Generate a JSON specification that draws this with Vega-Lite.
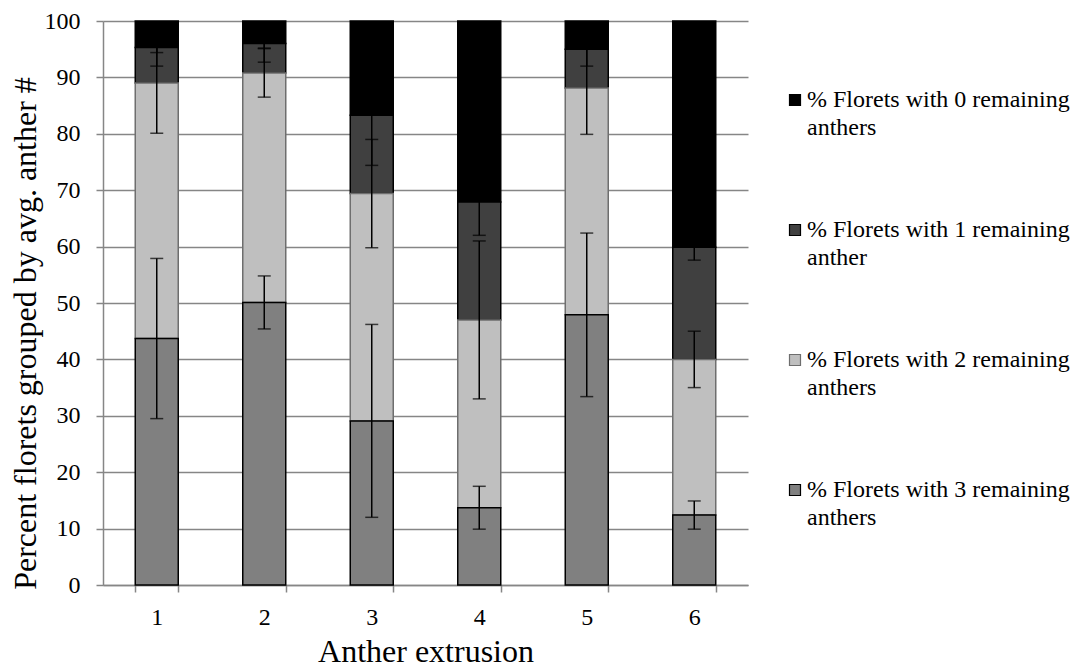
{
  "$schema": "https://vega.github.io/schema/vega-lite/v6.json",
  "width": 645,
  "height": 564,
  "autosize": {"type": "none"},
  "padding": {"left": 103, "top": 21, "right": 326, "bottom": 83},
  "background": "white",
  "config": {
    "font": "Liberation Serif",
    "view": {"stroke": null},
    "axis": {
      "labelFont": "Liberation Serif",
      "titleFont": "Liberation Serif",
      "labelColor": "black",
      "titleColor": "black",
      "titleFontWeight": "normal"
    },
    "legend": {"labelFont": "Liberation Serif", "titleFont": "Liberation Serif"}
  },
  "data": {
    "values": [
      {"extrusion": "1", "remaining": 0, "series": "% Florets with 0 remaining anthers", "percent": 4.7, "err": 5.6},
      {"extrusion": "1", "remaining": 1, "series": "% Florets with 1 remaining anther", "percent": 6.3, "err": 3.3},
      {"extrusion": "1", "remaining": 2, "series": "% Florets with 2 remaining anthers", "percent": 45.3, "err": 8.9},
      {"extrusion": "1", "remaining": 3, "series": "% Florets with 3 remaining anthers", "percent": 43.7, "err": 14.2},
      {"extrusion": "2", "remaining": 0, "series": "% Florets with 0 remaining anthers", "percent": 4.0, "err": 4.8},
      {"extrusion": "2", "remaining": 1, "series": "% Florets with 1 remaining anther", "percent": 5.2, "err": 3.3},
      {"extrusion": "2", "remaining": 2, "series": "% Florets with 2 remaining anthers", "percent": 40.7, "err": 4.3},
      {"extrusion": "2", "remaining": 3, "series": "% Florets with 3 remaining anthers", "percent": 50.1, "err": 4.7},
      {"extrusion": "3", "remaining": 0, "series": "% Florets with 0 remaining anthers", "percent": 16.7, "err": 10.0},
      {"extrusion": "3", "remaining": 1, "series": "% Florets with 1 remaining anther", "percent": 13.9, "err": 8.9},
      {"extrusion": "3", "remaining": 2, "series": "% Florets with 2 remaining anthers", "percent": 40.3, "err": 9.6},
      {"extrusion": "3", "remaining": 3, "series": "% Florets with 3 remaining anthers", "percent": 29.1, "err": 17.1},
      {"extrusion": "4", "remaining": 0, "series": "% Florets with 0 remaining anthers", "percent": 32.1, "err": 12.0},
      {"extrusion": "4", "remaining": 1, "series": "% Florets with 1 remaining anther", "percent": 20.9, "err": 5.9},
      {"extrusion": "4", "remaining": 2, "series": "% Florets with 2 remaining anthers", "percent": 33.3, "err": 14.0},
      {"extrusion": "4", "remaining": 3, "series": "% Florets with 3 remaining anthers", "percent": 13.7, "err": 3.8},
      {"extrusion": "5", "remaining": 0, "series": "% Florets with 0 remaining anthers", "percent": 5.0, "err": 4.0},
      {"extrusion": "5", "remaining": 1, "series": "% Florets with 1 remaining anther", "percent": 6.9, "err": 3.0},
      {"extrusion": "5", "remaining": 2, "series": "% Florets with 2 remaining anthers", "percent": 40.2, "err": 8.2},
      {"extrusion": "5", "remaining": 3, "series": "% Florets with 3 remaining anthers", "percent": 47.9, "err": 14.5},
      {"extrusion": "6", "remaining": 0, "series": "% Florets with 0 remaining anthers", "percent": 40.1, "err": 15.0},
      {"extrusion": "6", "remaining": 1, "series": "% Florets with 1 remaining anther", "percent": 19.9, "err": 2.3},
      {"extrusion": "6", "remaining": 2, "series": "% Florets with 2 remaining anthers", "percent": 27.6, "err": 5.0},
      {"extrusion": "6", "remaining": 3, "series": "% Florets with 3 remaining anthers", "percent": 12.4, "err": 2.5}
    ]
  },
  "layer": [
    {
      "mark": {"type": "bar", "strokeWidth": 1.5},
      "encoding": {
        "x": {
          "field": "extrusion",
          "type": "ordinal",
          "scale": {"paddingInner": 0.6, "paddingOuter": 0.3},
          "axis": {
            "title": "Anther extrusion",
            "labelAngle": 0,
            "tickBand": "extent",
            "domainColor": "#868686",
            "domainWidth": 1.5,
            "tickColor": "#868686",
            "tickWidth": 1.5,
            "tickSize": 7,
            "labelFontSize": 24,
            "labelPadding": 13,
            "titleFontSize": 32,
            "titlePadding": 7,
            "grid": false
          }
        },
        "y": {
          "field": "percent",
          "type": "quantitative",
          "stack": "zero",
          "scale": {"domain": [0, 100]},
          "axis": {
            "title": "Percent florets grouped by avg. anther #",
            "values": [0, 10, 20, 30, 40, 50, 60, 70, 80, 90, 100],
            "grid": true,
            "gridColor": "#868686",
            "gridWidth": 1.3,
            "domainColor": "#868686",
            "domainWidth": 1.5,
            "tickColor": "#868686",
            "tickWidth": 1.5,
            "tickSize": 7,
            "labelFontSize": 24,
            "labelPadding": 16,
            "titleFontSize": 32,
            "titlePadding": 2,
            "titleY": 312
          }
        },
        "color": {
          "field": "series",
          "type": "nominal",
          "scale": {
            "domain": ["% Florets with 0 remaining anthers", "% Florets with 1 remaining anther", "% Florets with 2 remaining anthers", "% Florets with 3 remaining anthers"],
            "range": ["#000000", "#404040", "#bfbfbf", "#808080"]
          },
          "legend": {
            "title": null,
            "orient": "none",
            "legendX": 680,
            "legendY": 67,
            "padding": 0,
            "symbolType": "square",
            "symbolSize": 121,
            "symbolStrokeWidth": 1.2,
            "labelFont": "Liberation Serif",
            "labelFontSize": 24,
            "labelColor": "black",
            "labelLimit": 400,
            "labelOffset": 0,
            "labelBaseline": "middle",
            "rowPadding": 78,
            "labelExpr": "[slice(datum.label, 0, indexof(datum.label, ' remaining') + 10), slice(datum.label, indexof(datum.label, ' remaining') + 11)]",
            "encode": {"labels": {"update": {"lineHeight": {"value": 27.5}}}}
          }
        },
        "stroke": {
          "field": "series",
          "type": "nominal",
          "scale": {
            "domain": ["% Florets with 0 remaining anthers", "% Florets with 1 remaining anther", "% Florets with 2 remaining anthers", "% Florets with 3 remaining anthers"],
            "range": ["#000000", "#000000", "#6e6e6e", "#000000"]
          }
        },
        "order": {"field": "remaining", "sort": "descending"}
      }
    },
    {
      "transform": [
        {"stack": "percent", "groupby": ["extrusion"], "sort": [{"field": "remaining", "order": "descending"}], "as": ["base", "top"]}
      ],
      "mark": {
        "type": "errorbar",
        "clip": true,
        "rule": {"color": "black", "strokeWidth": 1.5},
        "ticks": {"color": "black", "size": 13, "thickness": 1.5}
      },
      "encoding": {
        "x": {"field": "extrusion", "type": "ordinal"},
        "y": {"field": "top", "type": "quantitative", "title": "Percent florets grouped by avg. anther #"},
        "yError": {"field": "err"}
      }
    }
  ]
}
